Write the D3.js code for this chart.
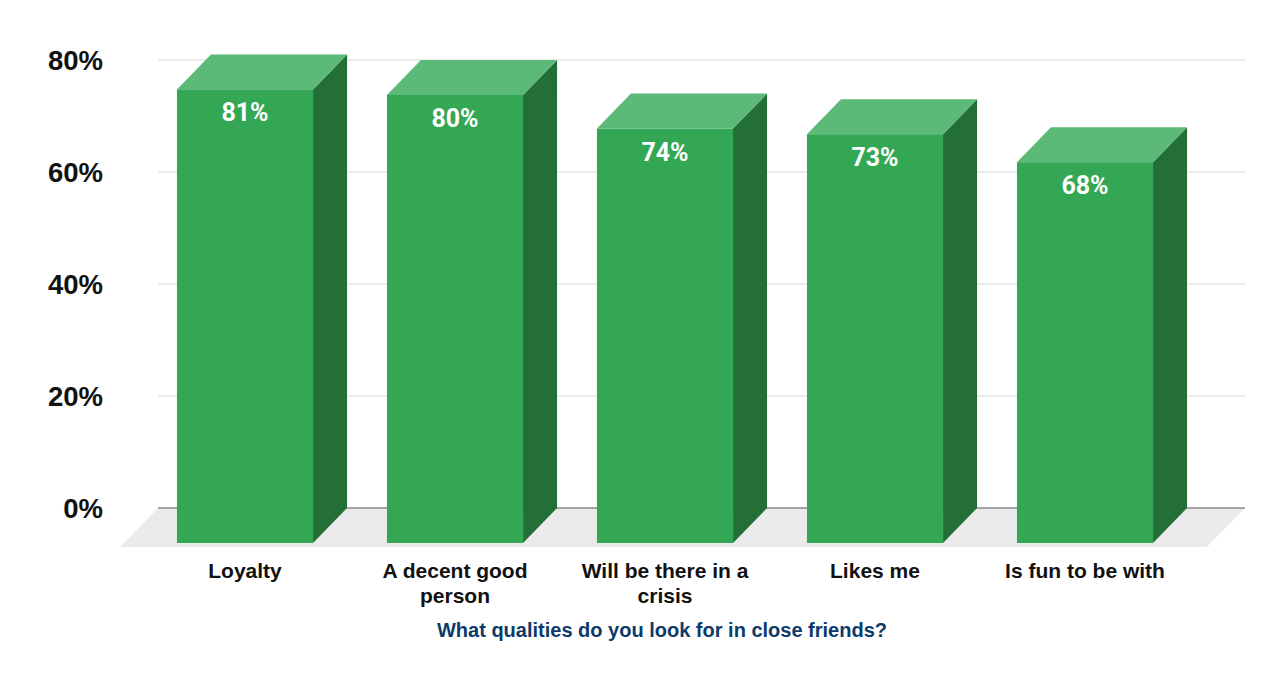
<!DOCTYPE html>
<html>
<head>
<meta charset="utf-8">
<script src="https://cdn.jsdelivr.net/npm/d3@7"></script>
<style>
  body { margin: 0; background: #fff; }
  svg { display: block; }
  .tick-label { font-family: "Liberation Sans", Arial, sans-serif; font-weight: bold; font-size: 27.5px; fill: #111; }
  .cat-label { font-family: "Liberation Sans", Arial, sans-serif; font-weight: bold; font-size: 21px; fill: #111; }
  .val-label { font-family: Roboto, "Liberation Sans", sans-serif; font-weight: bold; font-size: 25px; fill: #fff; }
  .axis-title { font-family: "Liberation Sans", Arial, sans-serif; font-weight: bold; font-size: 20px; fill: #0d3a6b; }
</style>
</head>
<body>
<div id="chart"></div>
<script>
  'use strict';

  const categories = ["Loyalty", "A decent good person", "Will be there in a crisis", "Likes me", "Is fun to be with"];
  const categoryLines = [["Loyalty"], ["A decent good", "person"], ["Will be there in a", "crisis"], ["Likes me"], ["Is fun to be with"]];
  const values = [81, 80, 74, 73, 68];
  const yTicks = [0, 20, 40, 60, 80];
  const xTitle = "What qualities do you look for in close friends?";

  const width = 1280, height = 700;
  // 3D offsets: bar depth and floor depth
  const depth = { dx: 34, dy: 35 };
  const floorDepth = { dx: 38, dy: 39 };
  const back = { left: 158, right: 1245 };

  const svg = d3.select("#chart").append("svg")
      .attr("width", width)
      .attr("height", height);

  // y scale lives on the back plane (grid plane)
  const y = d3.scaleLinear().domain([0, 80]).range([508, 60]);
  // x band scale on the front plane
  const x = d3.scaleBand()
      .domain(categories)
      .range([140, 1190])
      .paddingInner(0.352)
      .paddingOuter(0.176);

  // floor
  svg.append("path")
     .attr("d", "M" + back.left + "," + y(0) +
                "L" + back.right + "," + y(0) +
                "L" + (back.right - floorDepth.dx) + "," + (y(0) + floorDepth.dy) +
                "L" + (back.left - floorDepth.dx) + "," + (y(0) + floorDepth.dy) + "Z")
     .attr("fill", "#ebebeb");

  // grid lines
  svg.append("g")
     .selectAll("line")
     .data(yTicks.filter(d => d > 0))
     .join("line")
     .attr("x1", back.left)
     .attr("x2", back.right)
     .attr("y1", d => y(d))
     .attr("y2", d => y(d))
     .attr("stroke", "#d9d9d9")
     .attr("stroke-width", 1);

  // baseline on the back plane
  svg.append("line")
     .attr("x1", back.left)
     .attr("x2", back.right)
     .attr("y1", y(0))
     .attr("y2", y(0))
     .attr("stroke", "#555")
     .attr("stroke-width", 1.2);

  // y tick labels
  svg.append("g")
     .selectAll("text")
     .data(yTicks)
     .join("text")
     .attr("class", "tick-label")
     .attr("text-anchor", "end")
     .attr("x", 103)
     .attr("y", d => y(d) + 9.5)
     .text(d => d + "%");

  // bars
  const bars = svg.append("g")
     .selectAll("g")
     .data(values)
     .join("g");

  const x0 = (d, i) => x(categories[i]);
  const x1 = (d, i) => x(categories[i]) + x.bandwidth();
  const yTop = d => y(d) + depth.dy;
  const yBot = y(0) + depth.dy;

  // side face
  bars.append("path")
     .attr("d", (d, i) => "M" + x1(d, i) + "," + yTop(d) +
                          "L" + (x1(d, i) + depth.dx) + "," + (yTop(d) - depth.dy) +
                          "L" + (x1(d, i) + depth.dx) + "," + (yBot - depth.dy) +
                          "L" + x1(d, i) + "," + yBot + "Z")
     .attr("fill", "#236f37");

  // top face
  bars.append("path")
     .attr("d", (d, i) => "M" + x0(d, i) + "," + yTop(d) +
                          "L" + (x0(d, i) + depth.dx) + "," + (yTop(d) - depth.dy) +
                          "L" + (x1(d, i) + depth.dx) + "," + (yTop(d) - depth.dy) +
                          "L" + x1(d, i) + "," + yTop(d) + "Z")
     .attr("fill", "#5cba78");

  // front face
  bars.append("rect")
     .attr("x", (d, i) => x0(d, i))
     .attr("y", d => yTop(d))
     .attr("width", x.bandwidth())
     .attr("height", d => yBot - yTop(d))
     .attr("fill", "#34a755");

  // value labels
  bars.append("text")
     .attr("class", "val-label")
     .attr("text-anchor", "middle")
     .attr("x", (d, i) => x0(d, i) + x.bandwidth() / 2)
     .attr("y", d => yTop(d) + 32)
     .text(d => d + "%");

  // category labels
  svg.append("g")
     .selectAll("text")
     .data(categoryLines)
     .join("text")
     .attr("class", "cat-label")
     .attr("text-anchor", "middle")
     .attr("x", (d, i) => x(categories[i]) + x.bandwidth() / 2)
     .attr("y", 578)
     .selectAll("tspan")
     .data(d => d)
     .join("tspan")
     .attr("x", function () { return this.parentNode.getAttribute("x"); })
     .attr("dy", (d, j) => j === 0 ? 0 : 25)
     .text(d => d);

  // axis title
  svg.append("text")
     .attr("class", "axis-title")
     .attr("text-anchor", "middle")
     .attr("x", 662)
     .attr("y", 637)
     .text(xTitle);
</script>
</body>
</html>
